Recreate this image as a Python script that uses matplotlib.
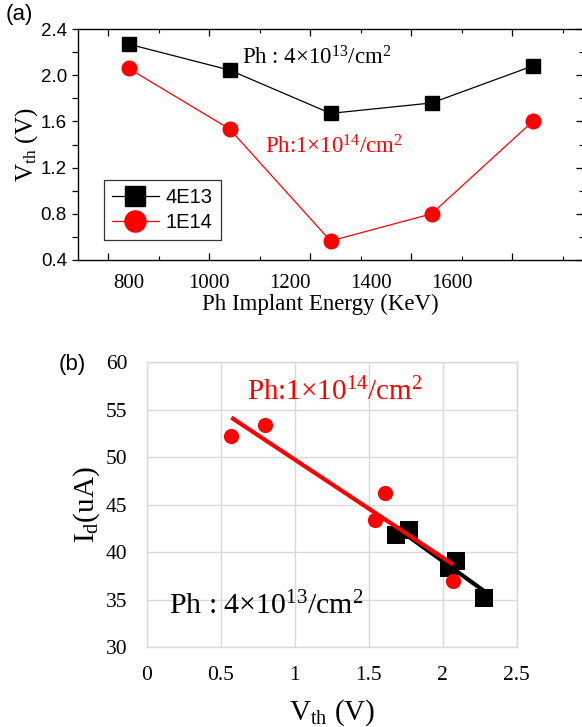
import numpy as np
import matplotlib
matplotlib.use("Agg")
import matplotlib.pyplot as plt
from matplotlib.ticker import MultipleLocator, NullFormatter

plt.rcParams['mathtext.fontset'] = 'custom'
plt.rcParams['mathtext.rm'] = 'Liberation Serif'
plt.rcParams['mathtext.it'] = 'Liberation Serif:italic'
SERIF = 'Liberation Serif'
SANS = 'Liberation Sans'

# implant energy (KeV) and threshold voltage for each dose
energia = [800, 1050, 1300, 1550, 1800]
vth_4e13 = [2.27, 2.045, 1.67, 1.76, 2.08]
vth_1e14 = [2.06, 1.535, 0.565, 0.80, 1.60]
popisky_x = [800, 1000, 1200, 1400, 1600]

# drain current vs threshold voltage
id_4e13 = [35.2, 38.3, 41.8, 42.3, 39.1]
vx_4e13 = [2.28, 2.04, 1.68, 1.77, 2.09]
id_1e14 = [37.0, 43.4, 52.2, 53.4, 46.2]
vx_1e14 = [2.07, 1.54, 0.57, 0.80, 1.61]

fig = plt.figure(figsize=(5.82, 7.27), dpi=100)

# ---- (a) Vth vs energy
ax = fig.add_axes([0.134, 0.6424, 0.868, 0.3176])
ax.plot(energia, vth_4e13, 'k-', lw=0.9, marker='s', ms=10, label='4E13')
ax.plot(energia, vth_1e14, '-', color='red', lw=0.9, marker='o', ms=10.5,
        label='1E14')
ax.set_xlim(675, 1925)
ax.set_ylim(0.4, 2.4)
ax.xaxis.set_major_locator(MultipleLocator(250))
ax.xaxis.set_minor_locator(MultipleLocator(125))
ax.xaxis.set_major_formatter(NullFormatter())
ax.yaxis.set_major_locator(MultipleLocator(0.4))
ax.yaxis.set_minor_locator(MultipleLocator(0.2))
ax.yaxis.set_major_formatter(lambda v, p: f'{v:.1f}')
ax.tick_params(axis='x', which='both', direction='in', top=True)
ax.tick_params(axis='x', which='major', length=5, width=0.9)
ax.tick_params(axis='x', which='minor', length=3, width=0.8)
ax.tick_params(axis='y', which='both', direction='out', length=4.5, width=0.9,
               labelsize=13.5)
for lab in ax.get_yticklabels():
    lab.set_family(SANS)

prava = ax.secondary_yaxis('right')
prava.yaxis.set_major_locator(MultipleLocator(0.4))
prava.yaxis.set_minor_locator(MultipleLocator(0.2))
prava.tick_params(which='both', direction='in', labelright=False)
prava.tick_params(which='major', length=5, width=0.9)
prava.tick_params(which='minor', length=3, width=0.8)

dole = ax.secondary_xaxis('bottom')
dole.set_xticks(popisky_x, [str(v) for v in popisky_x])
dole.tick_params(length=0, labelsize=15, pad=10)
dole.spines['bottom'].set_visible(False)
for lab in dole.get_xticklabels():
    lab.set_family(SERIF)

for s in ax.spines.values():
    s.set_linewidth(1.0)
ax.set_xlabel('Ph Implant Energy (KeV)', family=SERIF, fontsize=16.5)
ax.xaxis.set_label_coords(0.48, -0.145)
ax.set_ylabel(r'V$_{\mathrm{th}}$ (V)', family=SERIF, fontsize=18)
ax.yaxis.set_label_coords(-0.075, 0.5)

leg = ax.legend(loc='lower left', bbox_to_anchor=(0.052, 0.085),
                prop={'family': SANS, 'size': 14.5}, markerscale=1.45,
                fancybox=False, edgecolor='#333333', framealpha=1,
                handlelength=2.3, handletextpad=0.35, borderpad=0.4,
                labelspacing=0.3, borderaxespad=0)
leg.get_frame().set_linewidth(0.9)

ax.text(0.325, 0.875, r'Ph : 4×10$^{\mathrm{13}}$/cm$^{\mathrm{2}}$',
        transform=ax.transAxes, family=SERIF, fontsize=16.5, va='center')
ax.text(0.37, 0.49, r'Ph:1×10$^{\mathrm{14}}$/cm$^{\mathrm{2}}$',
        transform=ax.transAxes, family=SERIF, fontsize=16.5, va='center',
        color='red')
fig.text(0.010, 0.995, '(a)', family=SANS, fontsize=16, va='top')

# ---- (b) Id vs Vth with linear fits
bx = fig.add_axes([0.2526, 0.110, 0.6354, 0.392])
seda = '#d9d9d9'
bx.grid(True, color=seda, lw=1.0)
bx.set_axisbelow(True)
for s in bx.spines.values():
    s.set_color(seda)
    s.set_linewidth(1.0)
bx.set_xlim(0, 2.5)
bx.set_ylim(30, 60)
bx.xaxis.set_major_locator(MultipleLocator(0.5))
bx.yaxis.set_major_locator(MultipleLocator(5))
bx.xaxis.set_major_formatter(lambda v, p: f'{v:g}')
bx.tick_params(length=0, labelsize=15.5, pad=14)
bx.tick_params(axis='y', pad=14)
for lab in bx.get_xticklabels() + bx.get_yticklabels():
    lab.set_family(SERIF)

bx.scatter(vx_4e13, id_4e13, marker='s', s=150, color='black', zorder=3,
           linewidths=0)
bx.scatter(vx_1e14, id_1e14, marker='o', s=120, color='red', zorder=3,
           linewidths=0)

for vx, iy, c in [(vx_4e13, id_4e13, 'black'), (vx_1e14, id_1e14, 'red')]:
    k, q = np.polyfit(vx, iy, 1)
    xs = np.array([min(vx), max(vx)])
    bx.plot(xs, k * xs + q, color=c, lw=3, zorder=4, solid_capstyle='butt')

bx.text(0.27, 0.895, r'Ph:1×10$^{\mathrm{14}}$/cm$^{\mathrm{2}}$',
        transform=bx.transAxes, family=SERIF, fontsize=21, va='center',
        color='red')
bx.text(0.06, 0.145, r'Ph : 4×10$^{\mathrm{13}}$/cm$^{\mathrm{2}}$',
        transform=bx.transAxes, family=SERIF, fontsize=21.5, va='center')
bx.set_xlabel(r'V$_{\mathrm{th}}$ (V)', family=SERIF, fontsize=21)
bx.xaxis.set_label_coords(0.50, -0.175)
bx.set_ylabel(r'I$_{\mathrm{d}}$(uA)', family=SERIF, fontsize=21)
bx.yaxis.set_label_coords(-0.122, 0.5)
fig.text(0.100, 0.498, '(b)', family=SANS, fontsize=16, va='center')

fig.savefig('out.png', dpi=100)
